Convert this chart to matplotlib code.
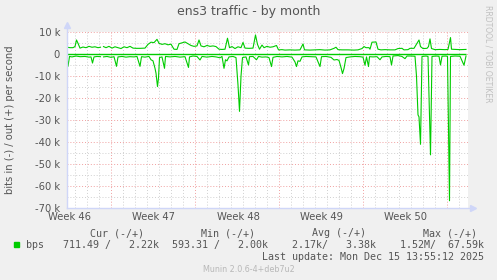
import matplotlib
matplotlib.use('Agg')
import matplotlib.pyplot as plt
from matplotlib.patches import Rectangle

# hours since the left edge of the graph, values in k bits/s
out_hours = [0, 6, 12, 16, 19, 22, 26, 32, 38, 44, 50, 56, 62, 67, 69,
             73, 78, 84, 90, 96, 102, 108, 114, 120, 126, 132, 138, 146, 156,
             162, 168, 174, 180, 184, 190, 196, 202, 208, 214, 220, 224, 230,
             236, 242, 248, 254, 260, 264, 268, 274, 280, 286, 292, 298, 304,
             310, 316, 321, 325, 330, 336, 342, 348, 352, 356, 364, 372, 377,
             381, 385, 390, 394, 400, 406, 412, 419, 423, 430, 436, 446, 456,
             466, 472, 475, 486, 496, 506, 516, 526, 534, 538, 542, 550, 562,
             574, 582, 590, 594, 598, 604, 606, 610, 618, 622, 628, 636, 646,
             656, 662, 670, 674, 682, 686, 694, 700, 704, 707, 712, 720, 723,
             726, 729, 736, 746, 756, 762, 767, 769, 776, 786, 798]
out_vals = [3.2, 3.0, 3.0, 3.5, 6.5, 5.0, 2.8, 3.3, 3.0, 3.6, 3.2, 3.4, 3.0, 3.2, None,
            3.5, 3.0, 3.6, 2.8, 3.4, 3.0, 2.6, 3.4, 3.0, 3.6, 2.8, 2.7, 2.7, 2.8,
            4.5, 5.5, 5.3, 6.8, 5.0, 4.5, 4.8, 4.3, 4.6, 2.3, 2.2, 4.8, 5.2,
            5.6, 4.8, 4.0, 3.6, 3.8, 6.5, 3.8, 3.4, 4.0, 3.6, 3.8, 3.5, 2.3,
            2.2, 2.3, 7.3, 3.0, 3.5, 2.6, 3.4, 3.0, 5.4, 2.8, 2.7, 2.8, 8.8,
            4.5, 2.3, 4.2, 3.0, 3.6, 3.2, 3.4, 4.0, 2.0, 2.1, 1.9, 2.0, 1.9,
            2.0, 4.7, 2.0, 1.9, 2.0, 2.1, 1.9, 2.0, 2.7, 3.2, 2.1, 2.0, 2.0,
            1.9, 2.0, 2.6, 3.5, 3.0, 3.0, 2.3, 5.5, 5.6, 2.3, 2.0, 2.1, 2.0,
            2.0, 2.6, 2.7, 2.0, 2.1, 2.7, 2.7, 5.0, 6.5, 3.5, 2.6, 2.7, 3.5,
            7.0, 2.6, 2.1, 2.2, 2.1, 2.2, 7.6, 2.3, 2.2, 2.1, 2.2]

in_hours = [0, 2, 5, 10, 18, 26, 36, 44, 48, 51, 54, 60, 67, 69,
            73, 80, 88, 94, 99, 102, 110, 118, 126, 134, 140, 146, 149, 156,
            164, 168, 172, 176, 178, 181, 183, 185, 190, 195, 197, 206, 216,
            226, 236, 243, 245, 252, 260, 266, 270, 280, 290, 298, 306, 310,
            314, 317, 320, 324, 332, 338, 342, 345, 348, 351, 358, 363, 365,
            372, 379, 383, 390, 398, 404, 409, 412, 420, 430, 440, 450, 456,
            459, 462, 466, 470, 478, 488, 498, 506, 509, 518, 528, 534, 540,
            544, 548, 551, 554, 558, 566, 576, 586, 592, 596, 599, 603, 605,
            612, 620, 626, 630, 638, 646, 649, 652, 662, 670, 676, 680, 688,
            696, 699, 702, 704, 707, 710, 718, 722, 727, 730, 738, 744, 747,
            750, 758, 761, 765, 767, 776, 786, 794, 798]
in_vals = [-1.0, -5.5, -1.0, -1.2, -0.8, -1.1, -1.0, -1.3, -1.2, -4.0, -1.2, -1.0, -1.1, None,
           -1.2, -1.0, -1.4, -1.1, -5.5, -1.2, -1.0, -1.3, -1.1, -1.2, -1.0, -5.5, -1.1, -1.3,
           -1.0, -2.5, -3.0, -6.4, -8.6, -14.7, -10.8, -1.5, -1.2, -6.4, -1.0, -1.2, -1.0,
           -1.3, -1.1, -6.0, -1.2, -0.8, -1.0, -2.6, -1.0, -1.3, -1.0, -1.2, -1.6, -1.0,
           -6.4, -2.5, -3.0, -1.2, -1.0, -1.5, -14.0, -26.0, -10.0, -1.5, -1.2, -4.9, -1.1,
           -1.0, -2.5, -1.0, -1.3, -1.2, -1.5, -5.6, -1.4, -1.0, -1.2, -1.0, -1.3, -3.5,
           -5.6, -3.0, -3.2, -1.2, -1.0, -1.1, -1.2, -5.6, -1.1, -1.0, -1.4, -2.6, -2.4,
           -2.8, -6.0, -8.8, -6.5, -1.5, -1.2, -1.0, -1.1, -1.3, -5.0, -1.2, -5.6, -1.1,
           -1.2, -1.1, -2.5, -1.2, -1.0, -1.1, -4.9, -0.8, -0.6, -1.0, -2.0, -0.8, -0.8,
           -0.9, -10.0, -27.6, -28.5, -41.0, -1.0, -0.8, -1.0, -45.8, -1.0, -0.8, -0.9, -4.9,
           -0.9, -0.8, -1.0, -66.7, -1.0, -0.8, -0.9, -5.0, -0.8]

y_ticks = [10, 0, -10, -20, -30, -40, -50, -60, -70]
y_labels = ['10 k', '0', '-10 k', '-20 k', '-30 k', '-40 k', '-50 k', '-60 k', '-70 k']
week_label_hours = [6, 174, 342, 510, 678]
week_labels = ['Week 46', 'Week 47', 'Week 48', 'Week 49', 'Week 50']
week_line_hours = [88, 256, 424, 592, 760]

legend_heads = ['Cur (-/+)', 'Min (-/+)', 'Avg (-/+)', 'Max (-/+)']
legend_vals = ['711.49 /   2.22k', '593.31 /   2.00k', '2.17k/   3.38k', '1.52M/  67.59k']

W, H = 497, 280
GREEN = '#00cc00'
FONT = '#555555'
AXIS = '#cfd6f8'

def fx(x):
    return x / W

def fy(y):
    return 1 - y / H

fig = plt.figure(figsize=(W / 100, H / 100), dpi=100, facecolor='#f0f0f0')
ax = fig.add_axes([fx(67), fy(208), (468 - 67) / W, (208 - 32.3) / H])
ax.set_facecolor('white')
ax.set_xlim(0, 802)
ax.set_ylim(-70, 10)
for s in ax.spines.values():
    s.set_visible(False)

# grid: daily / 5k dotted grey, weekly / 10k dotted red
for h in range(16, 802, 24):
    if h not in week_line_hours:
        ax.axvline(h, color='#d0d0d0', lw=0.7, ls=(0, (1, 2)), zorder=1)
for h in week_line_hours:
    ax.axvline(h, color='#f0a0a0', lw=0.7, ls=(0, (1, 2)), zorder=1)
for v in range(-65, 10, 10):
    ax.axhline(v, color='#d0d0d0', lw=0.7, ls=(0, (1, 2)), zorder=1)
for v in y_ticks[:-1]:
    ax.axhline(v, color='#f0a0a0', lw=0.7, ls=(0, (1, 2)), zorder=1)

# data
ax.plot(out_hours, out_vals, color=GREEN, lw=0.8, zorder=3)
ax.plot(in_hours, in_vals, color=GREEN, lw=0.8, zorder=3)
ax.hlines(0, 0, 798, color=GREEN, lw=1.0, zorder=3)

# axes with arrows
ax.plot([0, 0], [0, 1.03], color=AXIS, lw=1, transform=ax.transAxes, clip_on=False, zorder=4)
ax.plot([0, 1.01], [0, 0], color=AXIS, lw=1, transform=ax.transAxes, clip_on=False, zorder=4)
ax.plot(0, 1.04, marker='^', ms=4, color=AXIS, transform=ax.transAxes, clip_on=False, zorder=4)
ax.plot(1.012, 0, marker='>', ms=4, color=AXIS, transform=ax.transAxes, clip_on=False, zorder=4)

ax.set_yticks(y_ticks)
ax.set_yticklabels(y_labels)
ax.set_xticks(week_label_hours)
ax.set_xticklabels(week_labels)
ax.tick_params(axis='y', length=0, pad=5, labelsize=7.2, labelcolor=FONT)
ax.tick_params(axis='x', length=0, pad=3.2, labelsize=7.2, labelcolor=FONT)

fig.text(fx(248.5), fy(12), 'ens3 traffic - by month', ha='center', va='center',
         fontsize=9, color=FONT)
fig.text(fx(10), fy(120), 'bits in (-) / out (+) per second', rotation=90,
         ha='center', va='center', fontsize=7.2, color=FONT)
fig.text(fx(488), fy(5), 'RRDTOOL / TOBI OETIKER', rotation=-90, ha='center',
         va='top', fontsize=5.5, color='#c0c0c0')

# legend block
mono = 'DejaVu Sans Mono'
head_right = [143, 254, 365, 476]
val_right = [158, 267, 375, 483]
for t, x in zip(legend_heads, head_right):
    fig.text(fx(x + 1), fy(233.3), t, ha='right', va='center', fontsize=7.2,
             family=mono, color=FONT)
fig.patches.append(Rectangle((fx(14), fy(247)), 5 / W, 5 / H, color=GREEN,
                             transform=fig.transFigure, figure=fig))
fig.text(fx(26), fy(245), 'bps', ha='left', va='center', fontsize=7.2,
         family=mono, color=FONT)
for t, x in zip(legend_vals, val_right):
    fig.text(fx(x + 1), fy(245), t, ha='right', va='center', fontsize=7.2,
             family=mono, color=FONT)
fig.text(fx(484), fy(257.3), 'Last update: Mon Dec 15 13:55:12 2025', ha='right',
         va='center', fontsize=7.2, family=mono, color=FONT)
fig.text(fx(249), fy(269.5), 'Munin 2.0.6-4+deb7u2', ha='center', va='center',
         fontsize=5.8, color='#b8b8b8')

fig.savefig('out.png', dpi=100, facecolor=fig.get_facecolor())
